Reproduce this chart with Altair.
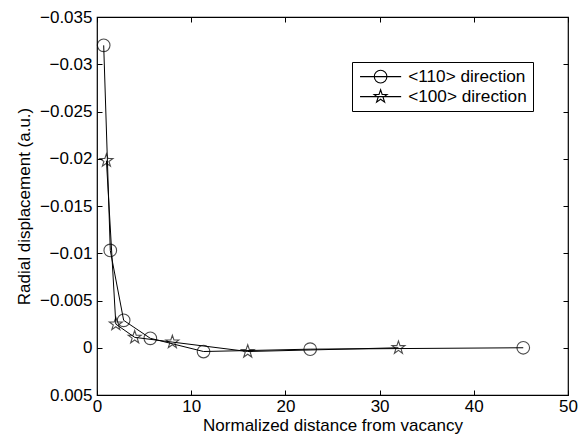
import math
import altair as alt
import pandas as pd

# ---- data ----
x110 = [0.71, 1.41, 2.83, 5.66, 11.31, 22.63, 45.25]
y110 = [-0.0320, -0.0103, -0.0029, -0.0010, 0.0004, 0.00015, 0.0000]
x100 = [1, 2, 4, 8, 16, 32]
y100 = [-0.0198, -0.0025, -0.0011, -0.0006, 0.0004, 0.0000]
series = ["<110> direction", "<100> direction"]
x_ticks = [0, 10, 20, 30, 40, 50]
y_ticks = [-0.035, -0.03, -0.025, -0.02, -0.015, -0.01, -0.005, 0, 0.005]

df = pd.DataFrame(
    {"x": x110 + x100,
     "y": y110 + y100,
     "series": [series[0]] * len(x110) + [series[1]] * len(x100)}
)

FONT = "Liberation Sans"
FS = 17

# ---- marker paths (unit coordinates) ----
circle = "M1,0 A1,1 0 1,1 -1,0 A1,1 0 1,1 1,0 Z"
pts = []
for k in range(10):
    r = 1.08 if k % 2 == 0 else 0.42
    a = math.radians(-90 + 36 * k)
    pts.append(f"{r*math.cos(a):.3f},{r*math.sin(a):.3f}")
star = "M" + " L".join(pts) + " Z"
line_seg = "M-3.25,0 L3.25,0 "
leg_circle = line_seg + circle
leg_star = line_seg + star

xs = alt.Scale(domain=[0, 50], nice=False, zero=False)
ys = alt.Scale(domain=[-0.035, 0.005], reverse=True, nice=False, zero=False)

common = dict(domain=False, grid=False, tickColor="black", tickWidth=1,
              labelFlush=False, labelOverlap=False)

bottom = alt.Axis(orient="bottom", values=x_ticks, offset=-5, tickSize=5,
                  labelPadding=3, labelFont=FONT, labelFontSize=FS, labelColor="black",
                  title="Normalized distance from vacancy", titleFont=FONT,
                  titleFontSize=FS, titleFontWeight="normal", titleColor="black",
                  titlePadding=3, **common)
left = alt.Axis(orient="left", values=y_ticks, offset=-5, tickSize=5,
                labelExpr="replace(format(datum.value, '~g'), '-', '\u2212')",
                labelPadding=5, labelFont=FONT, labelFontSize=FS, labelColor="black",
                title="Radial displacement (a.u.)", titleFont=FONT,
                titleFontSize=FS, titleFontWeight="normal", titleColor="black",
                titlePadding=6, **common)
top = alt.Axis(orient="top", values=x_ticks, offset=-5, tickSize=5, labels=False,
               title=None, **common)
right = alt.Axis(orient="right", values=y_ticks, offset=-5, tickSize=5, labels=False,
                 title=None, **common)

base = alt.Chart(df)

lines = base.mark_line(color="black", strokeWidth=1).encode(
    x=alt.X("x:Q", scale=xs, axis=top),
    y=alt.Y("y:Q", scale=ys, axis=right),
    detail="series:N",
    order="x:Q",
)

points = base.mark_point(color="black", filled=False, strokeWidth=1.1, size=160).encode(
    x=alt.X("x:Q", scale=xs, axis=bottom),
    y=alt.Y("y:Q", scale=ys, axis=left),
    shape=alt.Shape("series:N", scale=alt.Scale(domain=series, range=[circle, star]),
                    legend=None),
)

legend_layer = base.mark_point(color="black", filled=False, opacity=0, size=160).encode(
    x=alt.X("x:Q", scale=xs, axis=None),
    y=alt.Y("y:Q", scale=ys, axis=None),
    shape=alt.Shape(
        "series:N",
        scale=alt.Scale(domain=series, range=[leg_circle, leg_star]),
        legend=alt.Legend(
            orient="none", legendX=255, legendY=45,
            title="\u00a0", titleOrient="left", titleFontSize=1, titlePadding=8,
            labelFont=FONT, labelFontSize=17.2, labelColor="black",
            symbolSize=160, symbolStrokeColor="black", symbolStrokeWidth=1.1,
            symbolFillColor="transparent", symbolOpacity=1, symbolOffset=6,
            strokeColor="black", fillColor="white", padding=6,
            labelOffset=19, rowPadding=1, cornerRadius=0,
        ),
    ),
)

chart = (
    alt.layer(lines, points, legend_layer)
    .resolve_scale(shape="independent")
    .resolve_axis(x="independent", y="independent")
    .properties(width=471, height=378, autosize=alt.AutoSizeParams(type="none"),
                padding={"left": 97, "top": 17, "right": 13, "bottom": 45},
                background="white")
    .configure_view(stroke="black", strokeWidth=1.2)
)

chart.save("out.html", embed_options={"renderer": "svg", "actions": False})
